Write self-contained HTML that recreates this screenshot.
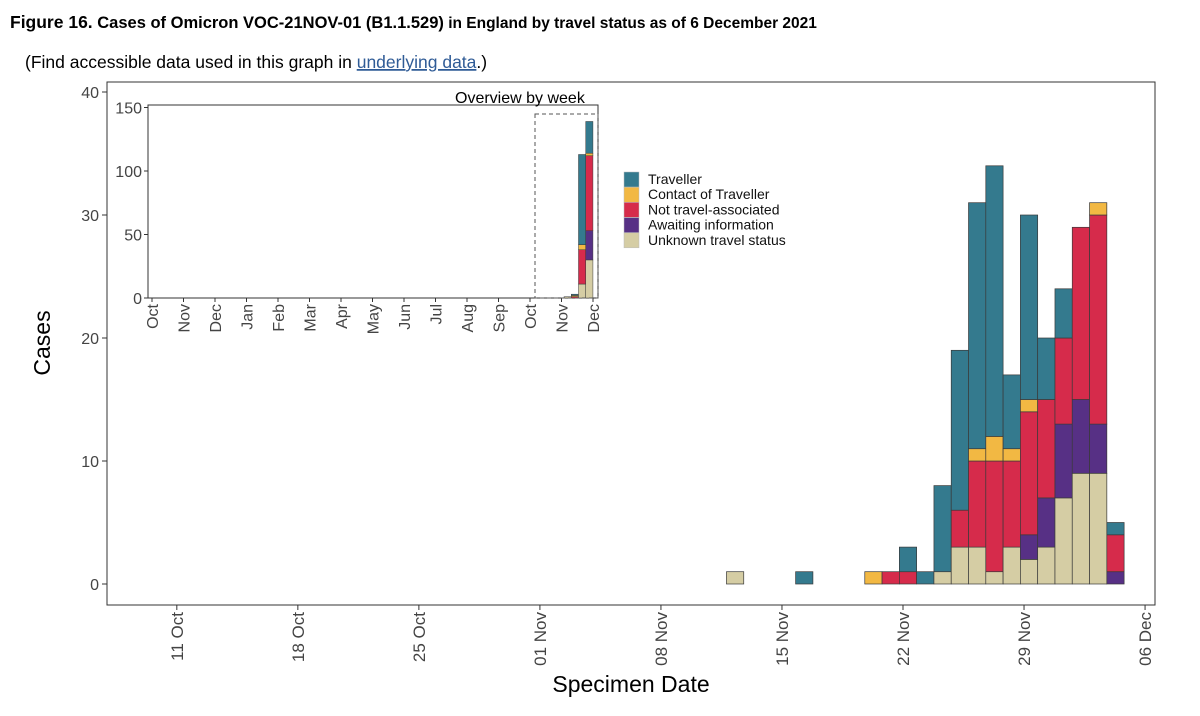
<!DOCTYPE html>
<html><head><meta charset="utf-8">
<style>
body{margin:0;background:#fff;width:1200px;height:716px;overflow:hidden;font-family:"Liberation Sans",Arial,sans-serif;}
svg{position:absolute;left:0;top:0}
</style></head>
<body>
<svg id="chart" width="1200" height="716">
<text x="10" y="28" font-size="17.5" font-weight="bold">Figure 16.<tspan font-size="16.5"> Cases of Omicron VOC-21NOV-01 (B1.1.529)</tspan><tspan font-size="15.5"> in England by travel status as of 6 December 2021</tspan></text>
<text x="25" y="68" font-size="17.5">(Find accessible data used in this graph in <tspan fill="#2f5b96" text-decoration="underline">underlying data</tspan>.)</text>
<rect x="107" y="82" width="1048" height="523" fill="none" stroke="#333" stroke-width="1"/>
<g id="main"></g>
<rect x="148" y="105" width="450" height="193" fill="#fff" stroke="#333" stroke-width="1"/>
<text x="455" y="103" font-size="16">Overview by week</text>
<g id="inset"></g>
<rect x="535" y="114" width="63" height="184" fill="none" stroke="#555" stroke-dasharray="4,3"/>
<g id="legend"></g>
<text x="50" y="343" font-size="23" transform="rotate(-90 50 343)" text-anchor="middle">Cases</text>
<text x="631" y="692" font-size="23" text-anchor="middle">Specimen Date</text>
</svg>
<script>
const days = [12,16,20,21,22,23,24,25,26,27,28,29,30,31,32,33,34];
const traveller = [0,1,0,0,2,1,7,13,20,22,6,15,5,4,0,0,1];
const contact   = [0,0,1,0,0,0,0,0,1,2,1,1,0,0,0,1,0];
const notTravel = [0,0,0,1,1,0,0,3,7,9,7,10,8,7,14,17,3];
const awaiting  = [0,0,0,0,0,0,0,0,0,0,0,2,4,6,6,4,1];
const unknown   = [1,0,0,0,0,0,1,3,3,1,3,2,3,7,9,9,0];
const yTicks = [0,10,20,30,40];
const xTickDays = [-20,-13,-6,1,8,15,22,29,36];
const xTickLabels = ["11 Oct","18 Oct","25 Oct","01 Nov","08 Nov","15 Nov","22 Nov","29 Nov","06 Dec"];
const insetYTicks = [0,50,100,150];
const monthLabels = ["Oct","Nov","Dec","Jan","Feb","Mar","Apr","May","Jun","Jul","Aug","Sep","Oct","Nov","Dec"];
const seriesNames = ["Unknown travel status","Awaiting information","Not travel-associated","Contact of Traveller","Traveller"];
const colors = {"Traveller":"#347a8e","Contact of Traveller":"#f2b843","Not travel-associated":"#d62b4b","Awaiting information":"#573085","Unknown travel status":"#d5cda4"};
const seriesData = [unknown,awaiting,notTravel,contact,traveller];

const NS="http://www.w3.org/2000/svg";
function mk(tag,attrs,parent,text){const e=document.createElementNS(NS,tag);for(const k in attrs)e.setAttribute(k,attrs[k]);if(text!==undefined)e.textContent=text;parent.appendChild(e);return e;}
const PXD=17.29;
const xs=d=>903+(d-22)*PXD;
const ys=v=>584-v*12.3;
const main=document.getElementById('main');
yTicks.forEach(t=>{
  const l=mk('line',{x1:102,x2:107,y1:ys(t),y2:ys(t),stroke:'#333'},main);
  
  
  const tx=mk('text',{x:99,y:ys(t)+6,'font-size':16,'text-anchor':'end',fill:'#444'},main,String(t));
  
  
});
xTickDays.forEach((d,i)=>{
  const x=xs(d);
  const l=mk('line',{x1:x,x2:x,y1:605,y2:610,stroke:'#333'},main);
  
  
  const tx=mk('text',{x:x+6,y:612,'font-size':17,'text-anchor':'end',fill:'#444',transform:`rotate(-90 ${x+6} 612)`},main,xTickLabels[i]);
  
  
});
days.forEach((d,i)=>{
  let cum=0;
  seriesData.forEach((arr,s)=>{
    const v=arr[i]; if(!v) return;
    const r=mk('rect',{x:xs(d)+5-PXD/2,y:ys(cum+v),width:PXD,height:v*12.3,fill:colors[seriesNames[s]],stroke:'#3a3a3a','stroke-width':0.7},main);
    
    
    cum+=v;
  });
});
const inset=document.getElementById('inset');
const xi=d=>562+(d-1)*1.033;
const yi=v=>298-v*1.27;
insetYTicks.forEach(t=>{
  const l=mk('line',{x1:144,x2:148,y1:yi(t),y2:yi(t),stroke:'#333'},inset);
  
  
  const tx=mk('text',{x:142,y:yi(t)+6,'font-size':16,'text-anchor':'end',fill:'#444'},inset,String(t));
  
  
});
monthLabels.forEach((m,i)=>{
  const x=152+i*31.5;
  const l=mk('line',{x1:x,x2:x,y1:298,y2:302,stroke:'#333'},inset);
  
  
  const tx=mk('text',{x:x+6,y:304,'font-size':16,'text-anchor':'end',fill:'#444',transform:`rotate(-90 ${x+6} 304)`},inset,m);
  
  
});
const weeks={};
days.forEach((d,i)=>{const w=1+Math.floor((d-1)/7)*7;if(!weeks[w])weeks[w]=[0,0,0,0,0];seriesData.forEach((a,s)=>weeks[w][s]+=a[i]);});
Object.keys(weeks).forEach(w=>{
  let cum=0;const ws=+w;
  weeks[w].forEach((v,s)=>{
    if(!v)return;
    const r=mk('rect',{x:xi(ws)-5.2,y:yi(cum+v),width:7.2,height:v*1.27,fill:colors[seriesNames[s]],stroke:'#3a3a3a','stroke-width':0.5},inset);
    
    
    cum+=v;
  });
});
const lg=document.getElementById('legend');
["Traveller","Contact of Traveller","Not travel-associated","Awaiting information","Unknown travel status"].forEach((n,i)=>{
  const y=172+i*15.2;
  const r=mk('rect',{x:624,y:y,width:15,height:15,fill:colors[n],stroke:'#bbb','stroke-width':0.5},lg);
  
  
  const t=mk('text',{x:648,y:y+12,'font-size':14,fill:'#111'},lg,n);
  
  
});
</script>
</body></html>
